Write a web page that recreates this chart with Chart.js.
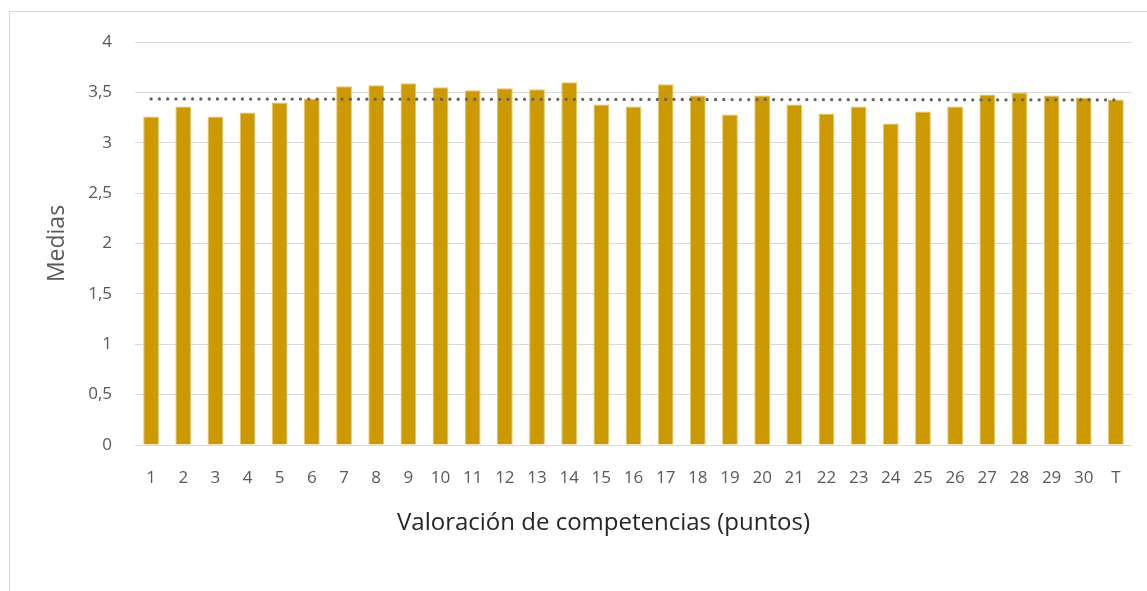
<!DOCTYPE html>
<html>
<head>
<meta charset="utf-8">
<script src="https://cdn.jsdelivr.net/npm/chart.js@4"></script>
<style>
  html, body { margin: 0; padding: 0; background: #fff; overflow: hidden; }
  #wrap { position: relative; width: 1147px; height: 591px; }
  #frame { position: absolute; left: 9px; top: 11px; width: 1200px; height: 700px; border: 1px solid #d9d9d9; box-sizing: border-box; }
  #chart { position: absolute; left: 0; top: 0; }
</style>
</head>
<body>
<div id="wrap">
  <div id="frame"></div>
  <canvas id="chart" width="1147" height="591"></canvas>
</div>
<script>
const categories = ["1", "2", "3", "4", "5", "6", "7", "8", "9", "10", "11", "12", "13", "14", "15",
  "16", "17", "18", "19", "20", "21", "22", "23", "24", "25", "26", "27", "28", "29", "30", "T"];

const medias = [3.26, 3.36, 3.26, 3.30, 3.40, 3.44, 3.56, 3.57, 3.59, 3.55, 3.52, 3.54, 3.53, 3.60, 3.38,
  3.36, 3.58, 3.47, 3.28, 3.47, 3.38, 3.29, 3.36, 3.19, 3.31, 3.36, 3.48, 3.50, 3.47, 3.45, 3.43];

// trend line: only the two ends are read, the rest is left empty
const tendencia = [3.435, null, null, null, null, null, null, null, null, null, null, null, null, null, null,
  null, null, null, null, null, null, null, null, null, null, null, null, null, null, null, 3.425];

const yTicks = [0, 0.5, 1, 1.5, 2, 2.5, 3, 3.5, 4];

const xTitle = "Valoración de competencias (puntos)";

const fontFamily = "'Open Sans', 'Noto Sans', sans-serif";

// the x title sits a bit left of the plot centre in the original, so draw it here
const xTitlePlugin = {
  id: "xTitle",
  afterDraw(chart) {
    const { ctx, chartArea } = chart;
    ctx.save();
    ctx.font = `24px ${fontFamily}`;
    ctx.fillStyle = "#262626";
    ctx.textAlign = "center";
    ctx.textBaseline = "middle";
    ctx.fillText(xTitle, (chartArea.left + chartArea.right) / 2 - 30, chartArea.bottom + 78);
    ctx.restore();
  },
};

new Chart(document.getElementById("chart"), {
  data: {
    labels: categories,
    datasets: [
      {
        type: "line",
        label: "Tendencia",
        data: tendencia,
        spanGaps: true,
        borderColor: "#626262",
        borderWidth: 3.3,
        borderDash: [0, 8.3],
        borderCapStyle: "round",
        pointRadius: 0,
        fill: false,
        order: 0,
      },
      {
        type: "bar",
        label: "Medias",
        data: medias,
        backgroundColor: "#cc9900",
        borderColor: "#e6c469",
        borderWidth: 1,
        barPercentage: 0.49,
        categoryPercentage: 1,
        order: 1,
      },
    ],
  },
  plugins: [xTitlePlugin],
  options: {
    responsive: false,
    animation: false,
    layout: {
      padding: { top: 42, right: 15, bottom: 51, left: 0 },
    },
    plugins: {
      legend: { display: false },
      tooltip: { enabled: false },
    },
    scales: {
      x: {
        grid: { display: false, drawTicks: false },
        border: { display: false },
        ticks: {
          color: "#595959",
          padding: 23,
          maxRotation: 0,
          autoSkip: false,
          font: { family: fontFamily, size: 17 },
        },
        afterFit: (scale) => { scale.height = 95; },
      },
      y: {
        min: 0,
        max: 4,
        grid: { color: "#d9d9d9", lineWidth: 1, drawTicks: false },
        border: { display: false },
        afterBuildTicks: (scale) => { scale.ticks = yTicks.map((v) => ({ value: v })); },
        ticks: {
          color: "#595959",
          padding: 23,
          font: { family: fontFamily, size: 17 },
          callback: (val) => String(val).replace(".", ","),
        },
        title: {
          display: true,
          text: "Medias",
          color: "#595959",
          padding: { top: 44, bottom: 0 },
          font: { family: fontFamily, size: 23 },
        },
        afterFit: (scale) => { scale.width = 135; },
      },
    },
  },
});
</script>
</body>
</html>
